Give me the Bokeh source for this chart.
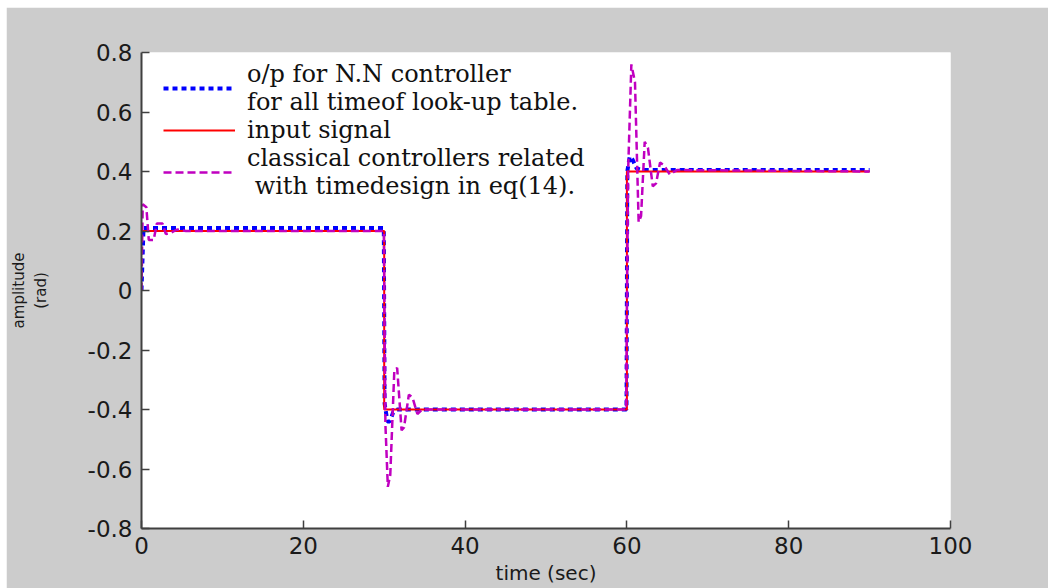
from bokeh.plotting import figure
from bokeh.models import Range1d, FixedTicker, Legend, LegendItem, Spacer
from bokeh.layouts import column, row
from bokeh.embed import file_html
from bokeh.resources import INLINE

# Reference input: step command (rad) vs time (sec)
input_t = [0.0, 30.0, 30.0, 60.0, 60.0, 90.0]
input_y = [0.2, 0.2, -0.4, -0.4, 0.4, 0.4]

# Neural-network controller output (look-up table over all time)
nn_t = [0.0, 0.0, 0.25, 29.95, 30.05, 30.4, 30.7, 31.1, 31.6, 59.95, 60.05, 60.35, 60.7, 61.2, 61.8, 90.0]
nn_y = [0.0, 0.0, 0.21, 0.21, -0.38, -0.44, -0.44, -0.41, -0.40, -0.40, 0.40, 0.45, 0.44, 0.41, 0.405, 0.405]

# Classical controller response (time-domain design, eq. 14)
cl_t = [0.0, 0.15, 0.6, 0.9, 1.5, 1.9, 2.6, 3.0, 3.7, 4.4, 5.5,
        29.95, 30.15, 30.45, 30.75, 31.25, 31.6, 32.15, 32.45, 33.05, 33.5, 34.1, 34.7, 35.6,
        59.9, 60.15, 60.55, 61.0, 61.45, 61.75, 62.2, 62.6, 63.2, 63.6, 64.1, 64.6, 65.3, 66.2, 90.0]
cl_y = [0.0, 0.29, 0.28, 0.17, 0.17, 0.225, 0.225, 0.19, 0.195, 0.205, 0.20,
        0.20, -0.45, -0.66, -0.62, -0.27, -0.26, -0.47, -0.46, -0.35, -0.36, -0.415, -0.40, -0.40,
        -0.40, 0.40, 0.76, 0.70, 0.23, 0.25, 0.50, 0.48, 0.35, 0.36, 0.43, 0.42, 0.39, 0.405, 0.40]

x_ticks = [0, 20, 40, 60, 80, 100]
y_ticks = [-0.8, -0.6, -0.4, -0.2, 0.0, 0.2, 0.4, 0.6, 0.8]
y_tick_labels = ["-0.8", "-0.6", "-0.4", "-0.2", "0", "0.2", "0.4", "0.6", "0.8"]

p = figure(width=1042, height=581, output_backend="svg", toolbar_location=None,
           x_range=Range1d(0, 100), y_range=Range1d(-0.8, 0.8),
           min_border_left=135, min_border_right=98, min_border_top=45, min_border_bottom=60)

p.background_fill_color = "white"
p.border_fill_color = "#cccccc"
p.outline_line_color = None
p.grid.visible = False

nn = p.line(nn_t, nn_y, line_color="#0000ff", line_width=4, line_dash="5 4")
inp = p.line(input_t, input_y, line_color="#ff0000", line_width=2)
cl = p.line(cl_t, cl_y, line_color="#c000c0", line_width=2.5, line_dash="8 4")

for ax in (p.xaxis[0], p.yaxis[0]):
    ax.axis_line_color = "#404040"
    ax.axis_line_width = 2
    ax.major_tick_line_color = "#404040"
    ax.major_tick_line_width = 1.5
    ax.major_tick_in = 8
    ax.major_tick_out = 0
    ax.minor_tick_line_color = None
    ax.major_label_text_font = "DejaVu Sans"
    ax.major_label_text_font_size = "23px"
    ax.major_label_text_color = "#1a1a1a"
    ax.axis_label_text_font = "DejaVu Sans"
    ax.axis_label_text_font_style = "normal"
    ax.axis_label_text_color = "#1a1a1a"

p.xaxis.ticker = FixedTicker(ticks=x_ticks)
p.yaxis.ticker = FixedTicker(ticks=y_ticks)
p.yaxis.major_label_overrides = {t: s for t, s in zip(y_ticks, y_tick_labels)}
p.xaxis.major_label_standoff = 8
p.yaxis.major_label_standoff = 9

p.xaxis.axis_label = "time (sec)"
p.xaxis.axis_label_text_font_size = "20px"
p.xaxis.axis_label_standoff = 4
p.yaxis.axis_label = "amplitude\n(rad)"
p.yaxis.axis_label_text_font_size = "15px"
p.yaxis.axis_label_standoff = 35

legend = Legend(items=[
    LegendItem(label="o/p for N.N controller\nfor all timeof look-up table.", renderers=[nn]),
    LegendItem(label="input signal", renderers=[inp]),
    LegendItem(label="classical controllers related\n with timedesign in eq(14).", renderers=[cl]),
], location=(22, 328))
legend.background_fill_alpha = 0
legend.border_line_color = None
legend.glyph_width = 72
legend.label_standoff = 12
legend.label_text_font = "DejaVu Serif"
legend.label_text_font_size = "24px"
legend.label_text_line_height = 1.2
legend.label_text_color = "#111111"
legend.spacing = 0
legend.padding = 8
legend.margin = 0
p.add_layout(legend)

layout = column(Spacer(height=7), row(Spacer(width=6), p))

open("out.html", "w").write(file_html(layout, INLINE))
